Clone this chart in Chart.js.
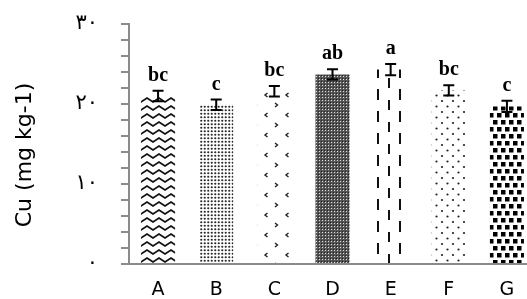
<!DOCTYPE html>
<html>
<head>
<meta charset="utf-8">
<script src="https://cdn.jsdelivr.net/npm/chart.js@4/dist/chart.umd.min.js"></script>
<style>
html,body{margin:0;padding:0;background:#fff;overflow:hidden;}
#wrap{width:527px;height:299px;overflow:hidden;position:relative;}
canvas{display:block;}
</style>
</head>
<body>
<div id="wrap"><canvas id="c" width="540" height="299"></canvas></div>
<script>
const categories = ['A','B','C','D','E','F','G'];
const cuValues = [21.0, 19.9, 21.6, 23.7, 24.3, 21.7, 19.7];
const cuErrors = [0.65, 0.65, 0.65, 0.65, 0.7, 0.65, 0.7];
const sigLetters = ['bc','c','bc','ab','a','bc','c'];
const yTickValues = [0, 10, 20, 30];
const yTickLabels = ['٠','١٠','٢٠','٣٠'];
const yTitle = 'Cu (mg kg-1)';

function tile(w, h, draw) {
  const c = document.createElement('canvas');
  c.width = w; c.height = h;
  const g = c.getContext('2d');
  g.fillStyle = '#fff'; g.fillRect(0, 0, w, h);
  draw(g);
  return g.createPattern(c, 'repeat');
}
function dots(g, pts, r, col) {
  g.fillStyle = col;
  pts.forEach(p => { g.beginPath(); g.arc(p[0], p[1], r, 0, Math.PI*2); g.fill(); });
}
const patterns = [
  tile(12, 8, g => { g.strokeStyle = '#111'; g.lineWidth = 1.8;
    g.beginPath(); g.moveTo(-3, 6); g.lineTo(3, 2); g.lineTo(9, 6); g.lineTo(15, 2); g.stroke(); }),
  tile(7, 7, g => dots(g, [[1.75,1.75],[5.25,1.75],[1.75,5.25],[5.25,5.25]], 1.1, '#2a2a2a')),
  tile(21, 20, g => { g.strokeStyle = '#222'; g.lineWidth = 1.4;
    g.beginPath(); g.moveTo(2, 3); g.lineTo(4.5, 5); g.lineTo(2, 7); g.stroke();
    g.beginPath(); g.moveTo(15.5, 13); g.lineTo(13, 15); g.lineTo(15.5, 17); g.stroke(); }),
  tile(3, 3, g => { g.fillStyle = '#555'; g.fillRect(0, 0, 3, 3); g.fillStyle = '#e0e0e0'; g.fillRect(1, 1, 1, 1); g.fillStyle = '#222'; g.fillRect(0, 0, 1, 1); }),
  tile(22, 22, g => { g.fillStyle = '#111'; g.fillRect(3, 1, 2, 11); g.fillRect(14, 12, 2, 11); }),
  tile(11, 11, g => dots(g, [[2,2],[7.5,7.5]], 1.1, '#222')),
  tile(8, 14, g => { g.fillStyle = '#000'; g.fillRect(1, 1, 4.5, 4.5); g.fillRect(5, 8, 4.5, 4.5); g.fillRect(-3, 8, 4.5, 4.5); })
];

const errLabelPlugin = {
  id: 'errLabels',
  afterDatasetsDraw(chart) {
    const ctx = chart.ctx, y = chart.scales.y, meta = chart.getDatasetMeta(0);
    ctx.save();
    ctx.strokeStyle = '#000'; ctx.lineWidth = 2;
    meta.data.forEach((bar, i) => {
      const x = bar.x;
      const yt = y.getPixelForValue(cuValues[i] + cuErrors[i]);
      const yb = y.getPixelForValue(cuValues[i] - cuErrors[i]);
      ctx.beginPath();
      ctx.moveTo(x, yt); ctx.lineTo(x, yb);
      ctx.moveTo(x - 5.5, yt); ctx.lineTo(x + 5.5, yt);
      ctx.moveTo(x - 5.5, yb); ctx.lineTo(x + 5.5, yb);
      ctx.stroke();
      ctx.fillStyle = '#000';
      ctx.font = 'bold 20px "Liberation Serif"';
      ctx.textAlign = 'center'; ctx.textBaseline = 'alphabetic';
      ctx.fillText(sigLetters[i], x, yt - 10);
    });
    // y-axis title
    ctx.translate(25, 155);
    ctx.rotate(-Math.PI / 2);
    ctx.font = '22px "DejaVu Sans"';
    ctx.textAlign = 'center'; ctx.textBaseline = 'middle';
    ctx.fillText(yTitle, 0, 0);
    ctx.restore();
  }
};

new Chart(document.getElementById('c'), {
  type: 'bar',
  data: {
    labels: categories,
    datasets: [{
      data: cuValues,
      backgroundColor: patterns,
      borderWidth: 0,
      categoryPercentage: 1,
      barPercentage: 0.585
    }]
  },
  options: {
    responsive: false,
    animation: false,
    devicePixelRatio: 1,
    layout: { padding: { top: 24, right: 4, left: 0, bottom: 0 } },
    plugins: { legend: { display: false }, tooltip: { enabled: false } },
    scales: {
      x: {
        grid: { display: false, drawTicks: false },
        border: { display: true, color: '#8a8a8a', width: 2 },
        ticks: { color: '#000', font: { family: '"DejaVu Sans"', size: 19 }, padding: 15 },
        afterFit(s) { s.height = 35; }
      },
      y: {
        min: 0, max: 30,
        grid: { drawOnChartArea: false, drawTicks: true, tickLength: 8, color: '#8a8a8a', lineWidth: 2 },
        border: { display: true, color: '#8a8a8a', width: 2 },
        ticks: {
          stepSize: 2, padding: 23, color: '#000', autoSkip: false,
          font: { family: '"DejaVu Sans"', size: 21 },
          callback: v => { const k = yTickValues.indexOf(v); return k >= 0 ? yTickLabels[k] : ''; }
        },
        title: { display: false },
        afterFit(s) { s.width = 129; s.paddingTop = 0; s.paddingBottom = 0; }
      }
    }
  },
  plugins: [errLabelPlugin]
});
</script>
</body>
</html>
